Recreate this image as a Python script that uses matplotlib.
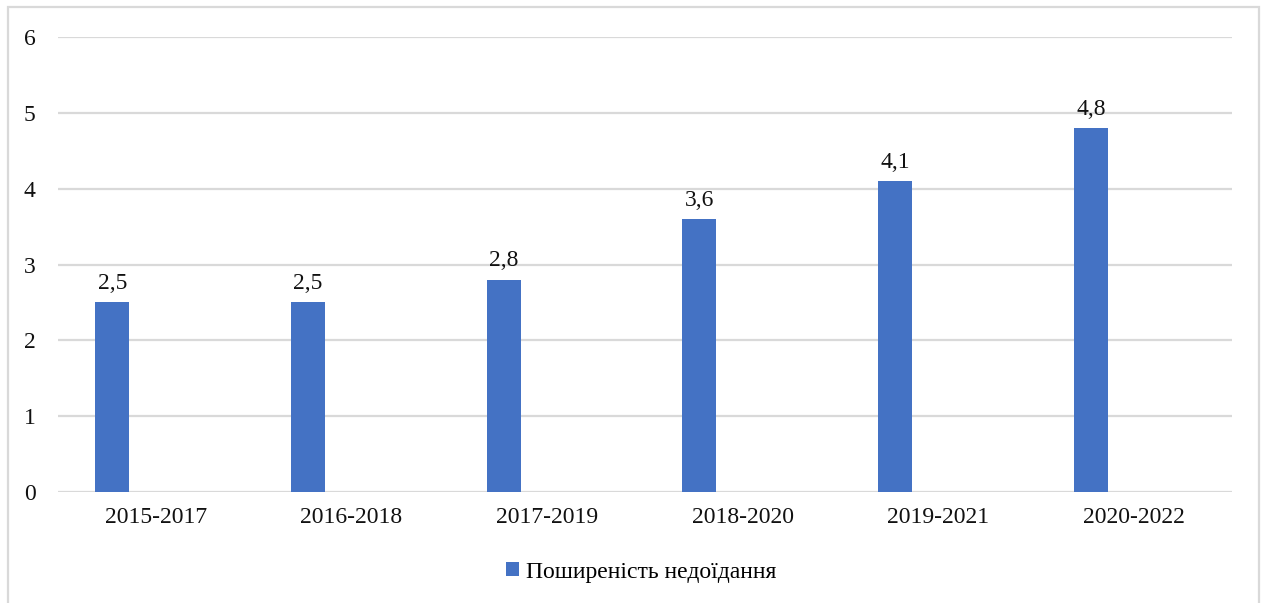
import matplotlib.pyplot as plt
import numpy as np
from matplotlib.patches import Rectangle

# data
periods = ["2015-2017", "2016-2018", "2017-2019", "2018-2020", "2019-2021", "2020-2022"]
prevalence = [2.5, 2.5, 2.8, 3.6, 4.1, 4.8]
series_name = "Поширеність недоїдання"

plt.rcParams['font.family'] = ['Liberation Serif', 'DejaVu Serif']

fig = plt.figure(figsize=(12.67, 6.03), dpi=100)
ax = fig.add_axes([0.0458, 0.1841, 0.9266, 0.7545])

x = np.arange(len(periods))
bar_w = 0.174
shift = -0.222
bars = ax.bar(x + shift, prevalence, width=bar_w, color="#4472C4", label=series_name, zorder=3)

for b, v in zip(bars, prevalence):
    ax.annotate(f"{v:.1f}".replace(".", ","), (b.get_x() + b.get_width() / 2, v),
                xytext=(0, 6), textcoords="offset points",
                ha="center", va="bottom", fontsize=17, color="#111111")

ax.set_xlim(-0.5, len(periods) - 0.5)
ax.set_ylim(0, 6)
ax.set_yticks(range(7))
ax.set_xticks(x)
ax.set_xticklabels(periods)
ax.yaxis.grid(True, color="#d9d9d9", linewidth=1.6, zorder=0)
ax.set_axisbelow(True)
for s in ax.spines.values():
    s.set_visible(False)
ax.tick_params(axis="both", length=0, labelsize=17, colors="#111111")
ax.tick_params(axis="y", pad=16)
ax.tick_params(axis="x", pad=11)

fig.legend(handles=[bars], labels=[series_name], loc="center", bbox_to_anchor=(0.506, 0.0514),
           frameon=False, fontsize=17, handlelength=0.55, handleheight=0.55, handletextpad=0.3)

# outer frame
fig.add_artist(Rectangle((8 / 1267, -0.05), 1251 / 1267, 1.05 - 7 / 603, transform=fig.transFigure,
                         fill=False, edgecolor="#d9d9d9", linewidth=1.6))

fig.savefig("out.png", dpi=100)
